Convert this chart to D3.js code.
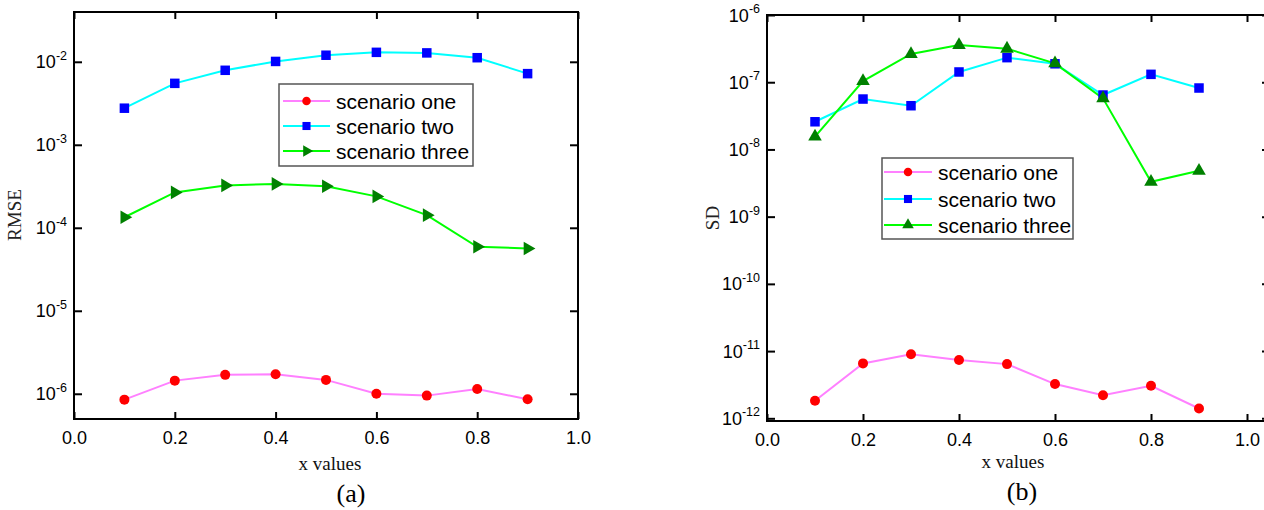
<!DOCTYPE html>
<html>
<head>
<meta charset="utf-8">
<script src="https://cdn.jsdelivr.net/npm/d3@7"></script>
<style>
  html, body { margin: 0; padding: 0; background: #fff; }
  svg { display: block; }
  .tick text { font-family: "Liberation Sans", Arial, sans-serif; }
</style>
</head>
<body>
<svg id="chart" width="1264" height="510"></svg>
<script>
// ---- data ----
const xValues = [0.1, 0.2, 0.3, 0.4, 0.5, 0.6, 0.7, 0.8, 0.9];
const seriesNames = ["scenario one", "scenario two", "scenario three"];
const xTicks = [0.0, 0.2, 0.4, 0.6, 0.8, 1.0];

const rmseOne   = [8.5e-7, 1.44e-6, 1.69e-6, 1.72e-6, 1.47e-6, 1.0e-6, 9.5e-7, 1.14e-6, 8.6e-7];
const rmseTwo   = [2.76e-3, 5.5e-3, 7.9e-3, 1.01e-2, 1.2e-2, 1.3e-2, 1.28e-2, 1.12e-2, 7.2e-3];
const rmseThree = [1.34e-4, 2.67e-4, 3.24e-4, 3.38e-4, 3.16e-4, 2.39e-4, 1.42e-4, 5.9e-5, 5.64e-5];
const rmseExponents = [-6, -5, -4, -3, -2];

const sdOne   = [1.82e-12, 6.56e-12, 9.0e-12, 7.35e-12, 6.4e-12, 3.23e-12, 2.21e-12, 3.05e-12, 1.40e-12];
const sdTwo   = [2.58e-8, 5.62e-8, 4.47e-8, 1.42e-7, 2.32e-7, 1.88e-7, 6.45e-8, 1.31e-7, 8.2e-8];
const sdThree = [1.55e-8, 1.04e-7, 2.63e-7, 3.58e-7, 3.15e-7, 1.91e-7, 5.75e-8, 3.3e-9, 4.82e-9];
const sdExponents = [-12, -11, -10, -9, -8, -7, -6];

// ---- styles ----
const lineColors = ["#ff80ff", "#00ffff", "#00ff00"];
const markerColors = ["#ff0000", "#0000ff", "#008000"];
const sansFont = '"Liberation Sans", Arial, sans-serif';
const serifFont = '"Liberation Serif", "Times New Roman", serif';

const svg = d3.select("#chart");

function drawPanel(cfg) {
  const g = svg.append("g");
  const x = d3.scaleLinear().domain(cfg.xDomain).range([cfg.left, cfg.right]);
  const y = d3.scaleLog().domain(cfg.yDomain).range([cfg.bottom, cfg.top]);
  const yTickVals = cfg.exponents.map(e => Math.pow(10, e));

  // axes (ticks inward)
  const axB = d3.axisBottom(x).tickValues(xTicks).tickSizeInner(-7).tickSizeOuter(0)
    .tickPadding(12).tickFormat(d3.format(".1f"));
  const gb = g.append("g").attr("transform", `translate(0,${cfg.bottom})`).call(axB);
  gb.selectAll(".tick text").attr("font-size", 18).attr("font-family", sansFont).attr("fill", "#000");
  const axT = d3.axisTop(x).tickValues(xTicks).tickSizeInner(-7).tickSizeOuter(0).tickFormat("");
  const gt = g.append("g").attr("transform", `translate(0,${cfg.top})`).call(axT);
  const axL = d3.axisLeft(y).tickValues(yTickVals).tickSizeInner(-8).tickSizeOuter(0).tickFormat("");
  const gl = g.append("g").attr("transform", `translate(${cfg.left},0)`).call(axL);
  const axR = d3.axisRight(y).tickValues(yTickVals).tickSizeInner(-8).tickSizeOuter(0).tickFormat("");
  const gr = g.append("g").attr("transform", `translate(${cfg.right},0)`).call(axR);
  [gb, gt, gl, gr].forEach(a => {
    a.select(".domain").remove();
    a.selectAll(".tick line").attr("stroke", "#000").attr("stroke-width", 2);
  });

  // y tick labels 10^e
  cfg.exponents.forEach(e => {
    const t = g.append("text")
      .attr("x", cfg.left - 7)
      .attr("y", y(Math.pow(10, e)) + 6.5)
      .attr("text-anchor", "end")
      .attr("font-family", sansFont)
      .attr("fill", "#000");
    t.append("tspan").attr("font-size", 18).text("10");
    t.append("tspan").attr("font-size", 12.5).attr("dy", -8.5).text(String(e));
  });

  // frame
  g.append("rect")
    .attr("x", cfg.left).attr("y", cfg.top)
    .attr("width", cfg.right - cfg.left).attr("height", cfg.bottom - cfg.top)
    .attr("fill", "none").attr("stroke", "#000").attr("stroke-width", 2);

  // lines
  const line = d3.line().x((d, i) => x(xValues[i])).y(d => y(d));
  cfg.series.forEach((vals, k) => {
    g.append("path").datum(vals).attr("d", line)
      .attr("fill", "none").attr("stroke", lineColors[k]).attr("stroke-width", 2);
  });
  // markers
  cfg.series.forEach((vals, k) => {
    vals.forEach((v, i) => {
      drawMarker(g, cfg.markers[k], x(xValues[i]), y(v), markerColors[k], 1);
    });
  });

  // legend
  const L = cfg.legend;
  g.append("rect").attr("x", L.x).attr("y", L.y).attr("width", L.w).attr("height", L.h)
    .attr("fill", "#fff").attr("stroke", "#555").attr("stroke-width", 1.5);
  seriesNames.forEach((name, k) => {
    const cy = L.rows[k];
    g.append("line").attr("x1", L.lx1).attr("x2", L.lx2).attr("y1", cy).attr("y2", cy)
      .attr("stroke", lineColors[k]).attr("stroke-width", 2);
    drawMarker(g, cfg.markers[k], (L.lx1 + L.lx2) / 2, cy, markerColors[k], 0.85);
    g.append("text").attr("x", L.tx).attr("y", cy + 7.5)
      .attr("font-family", sansFont).attr("font-size", 21).attr("fill", "#000").text(name);
  });

  // titles
  g.append("text").attr("x", cfg.xTitle[0]).attr("y", cfg.xTitle[1])
    .attr("text-anchor", "middle").attr("font-family", serifFont).attr("font-size", 19)
    .attr("fill", "#111").text("x values");
  g.append("text").attr("transform", `translate(${cfg.yTitle[0]},${cfg.yTitle[1]}) rotate(-90)`)
    .attr("text-anchor", "middle").attr("font-family", serifFont).attr("font-size", 19)
    .attr("fill", "#222").text(cfg.yLabel);
  g.append("text").attr("x", cfg.panel[0]).attr("y", cfg.panel[1])
    .attr("text-anchor", "middle").attr("font-family", serifFont).attr("font-size", 26)
    .attr("fill", "#000").text(cfg.panelLabel);
}

function drawMarker(g, type, cx, cy, color, s) {
  if (type === "circle") {
    g.append("circle").attr("cx", cx).attr("cy", cy).attr("r", 5 * s).attr("fill", color);
  } else if (type === "square") {
    const h = 9.5 * s;
    g.append("rect").attr("x", cx - h / 2).attr("y", cy - h / 2).attr("width", h).attr("height", h).attr("fill", color);
  } else if (type === "triRight") {
    g.append("path").attr("d", d3.symbol(d3.symbolTriangle, 80 * s * s)())
      .attr("transform", `translate(${cx},${cy}) rotate(90)`).attr("fill", color);
  } else if (type === "triUp") {
    g.append("path").attr("d", d3.symbol(d3.symbolTriangle, 80 * s * s)())
      .attr("transform", `translate(${cx},${cy})`).attr("fill", color);
  }
}

drawPanel({
  left: 74, right: 578, top: 12, bottom: 419,
  xDomain: [0, 1], yDomain: [Math.pow(10, -6.304), Math.pow(10, -1.4)],
  exponents: rmseExponents,
  series: [rmseOne, rmseTwo, rmseThree],
  markers: ["circle", "square", "triRight"],
  legend: { x: 279, y: 84, w: 194, h: 82, rows: [101, 126, 151], lx1: 283, lx2: 330, tx: 336 },
  xTitle: [330, 470], yTitle: [21, 215], yLabel: "RMSE",
  panel: [351, 502], panelLabel: "(a)"
});

drawPanel({
  left: 767, right: 1270, top: 15, bottom: 421,
  xDomain: [0, (1270 - 767) / 480], yDomain: [Math.pow(10, -12.04), Math.pow(10, -6)],
  exponents: sdExponents,
  series: [sdOne, sdTwo, sdThree],
  markers: ["circle", "square", "triUp"],
  legend: { x: 882, y: 158, w: 191, h: 81, rows: [172, 199, 225], lx1: 884, lx2: 932, tx: 938 },
  xTitle: [1013, 468], yTitle: [719, 218], yLabel: "SD",
  panel: [1022, 500], panelLabel: "(b)"
});
</script>
</body>
</html>
